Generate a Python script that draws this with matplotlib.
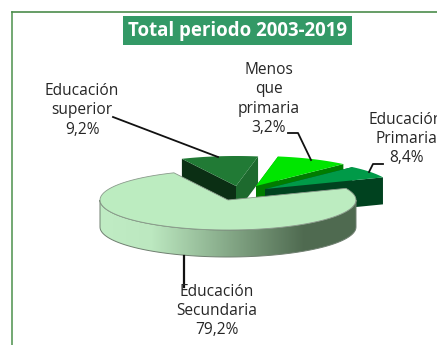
import numpy as np
import matplotlib
matplotlib.use("Agg")
import matplotlib.pyplot as plt
from matplotlib.patches import Polygon, Rectangle
from matplotlib.colors import LinearSegmentedColormap

title = "Total periodo 2003-2019"
categories = ["Educación\nsuperior", "Menos\nque\nprimaria", "Educación\nPrimaria", "Educación\nSecundaria"]
labels = ["9,2%", "3,2%", "8,4%", "79,2%"]
# share of the circle each slice takes in the drawing (read off the ellipse,
# the printed labels do not agree with the drawn sizes)
drawn_shares = [9.7, 9.2, 6.7, 74.4]

plt.rcParams['font.family'] = ['Open Sans', 'DejaVu Sans']

fig = plt.figure(figsize=(4.37, 3.45), dpi=100)
ax = fig.add_axes([0, 0, 1, 1])

cx, cy = 228, 200
rx, ry = 128, 30
depth = 27
start = 115

explode_x = [8, 28, 37, 0]
explode_y = [-14, -14, -11, 0]
top_cols = ["#217a35", "#00e600", "#009a48", "#bcecc0"]
left_cols = ["#0b2f14", "#008a00", "#00421f"]
right_cols = ["#1d6a2e", "#007d00", "#00421f"]


def arc(t1, t2, ox=0, oy=0):
    t = np.radians(np.linspace(t1, t2, 80))
    return np.column_stack([cx + ox + rx * np.cos(t), cy + oy - ry * np.sin(t)])


def band(pts):
    low = pts + [0, depth]
    return np.vstack([pts, low[::-1]])


angles = np.array(drawn_shares) * 3.6

# exploded slices first, the big one goes on top
a1 = start
for i in range(3):
    a2 = a1 - angles[i]
    ox, oy = explode_x[i], explode_y[i]
    apex = np.array([[cx + ox, cy + oy]])
    rim = arc(a1, a2, ox, oy)
    ax.add_patch(Polygon(band(np.vstack([apex, rim[:1]])), fc=left_cols[i], ec="none"))
    ax.add_patch(Polygon(band(np.vstack([apex, rim[-1:]])), fc=right_cols[i], ec="none"))
    ax.add_patch(Polygon(np.vstack([apex, rim]), fc=top_cols[i], ec="none"))
    a1 = a2

# side of the main slice with the light-to-dark gradient
side = band(arc(180, 360))
cmap = LinearSegmentedColormap.from_list("side", [(0, "#c0ecc4"), (0.2, "#bce8c0"), (0.8, "#4f6a50"), (1, "#4f6a50")])
im = ax.imshow(np.linspace(0, 1, 256).reshape(1, -1), cmap=cmap, aspect="auto",
               extent=[cx - rx, cx + rx, cy + ry + depth, cy - ry], zorder=2)
clip = Polygon(side, transform=ax.transData, fc="none", ec="none")
ax.add_patch(clip)
im.set_clip_path(clip)
ax.add_patch(Polygon(side, fc="none", ec="#6f7f70", lw=0.7, zorder=3))

main = np.vstack([[[cx, cy]], arc(start, start + angles[3])])
ax.add_patch(Polygon(main, fc=top_cols[3], ec="#8a9a8b", lw=0.6, zorder=4))

# frame
ax.plot([11.5, 11.5], [345, 11.5], color="#5a9a5a", lw=1.2, zorder=1)
ax.plot([11.5, 437], [11.5, 11.5], color="#4c8c4c", lw=1.2, zorder=1)

# title box
ax.add_patch(Rectangle((123, 16), 229, 29, fc="#339966", ec="none", zorder=5))
ax.text(237.5, 31, title, color="white", fontsize=13.4, fontweight="bold",
        ha="center", va="center", zorder=6)

# leader lines
ax.plot([113, 218], [117, 157], color="#111111", lw=1.3, zorder=5)
ax.plot([288, 298, 311], [133, 133, 160], color="#111111", lw=1.3, zorder=5)
ax.plot([383, 373, 369], [164, 164, 172], color="#111111", lw=1.3, zorder=5)
ax.plot([184, 184], [256, 287], color="#111111", lw=1.6, zorder=5)

# data labels
label_x = [82, 269, 406, 217]
label_y = [110.5, 99, 139, 311]
for i in range(4):
    ax.text(label_x[i], label_y[i], categories[i] + "\n" + labels[i], color="#262626",
            fontsize=11.2, ha="center", va="center", linespacing=1.28, zorder=6)

ax.set_xlim(0, 437)
ax.set_ylim(345, 0)
ax.axis("off")
fig.savefig("out.png", dpi=100, facecolor="white")
